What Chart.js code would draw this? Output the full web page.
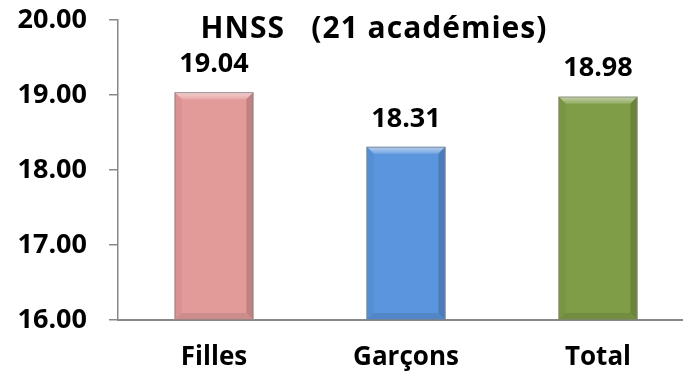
<!DOCTYPE html>
<html>
<head>
<meta charset="utf-8">
<script src="https://cdn.jsdelivr.net/npm/chart.js"></script>
<style>
html, body { margin: 0; padding: 0; background: #fff; overflow: hidden; }
#wrap { width: 700px; height: 395px; margin-top: -18px; }
</style>
</head>
<body>
<div id="wrap"><canvas id="bar-chart"></canvas></div>
<script>
var categories = ['Filles', 'Garçons', 'Total'];
var moyennes = [19.04, 18.31, 18.98];
var couleurs = ['#E39B9A', '#5B95DD', '#7F9D46'];
var titre = 'HNSS   (21 académies)';
var yMin = 16, yMax = 20, yStep = 1;

var police = '"Open Sans", sans-serif';

function shade(hex, amt) {
    var n = parseInt(hex.slice(1), 16);
    var r = n >> 16, g = (n >> 8) & 255, b = n & 255;
    function f(c) {
        return Math.round(amt >= 0 ? c + (255 - c) * amt : c * (1 + amt));
    }
    return 'rgb(' + f(r) + ',' + f(g) + ',' + f(b) + ')';
}

// bevel on each bar + value above it
var bevel = {
    id: 'bevel',
    afterDatasetsDraw: function(chart) {
        var ctx = chart.ctx;
        var a = chart.chartArea;
        var meta = chart.getDatasetMeta(0);
        meta.data.forEach(function(bar, i) {
            var c = couleurs[i];
            var l = bar.x - bar.width / 2, r = bar.x + bar.width / 2;
            var t = bar.y, b = Math.min(bar.base, a.bottom);
            var e = 7;
            ctx.save();
            // top
            var gt = ctx.createLinearGradient(0, t, 0, t + e);
            gt.addColorStop(0, shade(c, 0.55));
            gt.addColorStop(1, shade(c, 0.15));
            ctx.fillStyle = gt;
            ctx.beginPath();
            ctx.moveTo(l, t); ctx.lineTo(r, t); ctx.lineTo(r - e, t + e); ctx.lineTo(l + e, t + e);
            ctx.closePath(); ctx.fill();
            // sides
            ctx.fillStyle = shade(c, -0.05);
            ctx.beginPath();
            ctx.moveTo(l, t); ctx.lineTo(l + e, t + e); ctx.lineTo(l + e, b - e); ctx.lineTo(l, b);
            ctx.closePath(); ctx.fill();
            ctx.fillStyle = shade(c, -0.16);
            ctx.beginPath();
            ctx.moveTo(r, t); ctx.lineTo(r - e, t + e); ctx.lineTo(r - e, b - e); ctx.lineTo(r, b);
            ctx.closePath(); ctx.fill();
            // bottom
            ctx.fillStyle = shade(c, -0.1);
            ctx.beginPath();
            ctx.moveTo(l, b); ctx.lineTo(l + e, b - e); ctx.lineTo(r - e, b - e); ctx.lineTo(r, b);
            ctx.closePath(); ctx.fill();
            // outline
            ctx.strokeStyle = 'rgba(130,130,130,0.7)';
            ctx.lineWidth = 1;
            ctx.strokeRect(l + 0.5, t + 0.5, bar.width - 1, b - t - 1);
            // value
            ctx.fillStyle = '#000';
            ctx.font = 'bold 27px ' + police;
            ctx.textAlign = 'center';
            ctx.textBaseline = 'middle';
            ctx.fillText(moyennes[i].toFixed(2), bar.x, t - 28);
            ctx.restore();
        });
        // title inside the plot area
        ctx.save();
        ctx.fillStyle = '#000';
        ctx.font = 'bold 30px ' + police;
        ctx.letterSpacing = '1px';
        ctx.textAlign = 'center';
        ctx.textBaseline = 'middle';
        ctx.fillText(titre, a.left + 256, a.top + 9);
        ctx.restore();
    }
};

var ctx = document.getElementById('bar-chart').getContext('2d');
var chart = new Chart(ctx, {
    type: 'bar',
    data: {
        labels: categories,
        datasets: [{
            data: moyennes,
            backgroundColor: couleurs,
            borderWidth: 0,
            barPercentage: 0.41,
            categoryPercentage: 1
        }]
    },
    options: {
        responsive: true,
        maintainAspectRatio: false,
        animation: false,
        layout: { padding: { top: 3, right: 6, left: 0, bottom: 0 } },
        plugins: {
            legend: { display: false },
            tooltip: { enabled: false }
        },
        scales: {
            x: {
                grid: { display: false },
                border: { display: true, color: '#888', width: 2 },
                ticks: {
                    color: '#000',
                    padding: 14,
                    font: { family: police, size: 26, weight: 'bold' }
                },
                afterFit: function(s) { s.height = 57; }
            },
            y: {
                min: yMin,
                max: yMax,
                ticks: {
                    stepSize: yStep,
                    color: '#000',
                    padding: 22,
                    font: { family: police, size: 27, weight: 'bold' },
                    callback: function(v) { return v.toFixed(2); }
                },
                grid: { drawOnChartArea: false, tickLength: 9, color: '#888', lineWidth: 1.5 },
                border: { display: true, color: '#888', width: 1.5 },
                afterFit: function(s) { s.width = 118; }
            }
        }
    },
    plugins: [bevel]
});
</script>
</body>
</html>
